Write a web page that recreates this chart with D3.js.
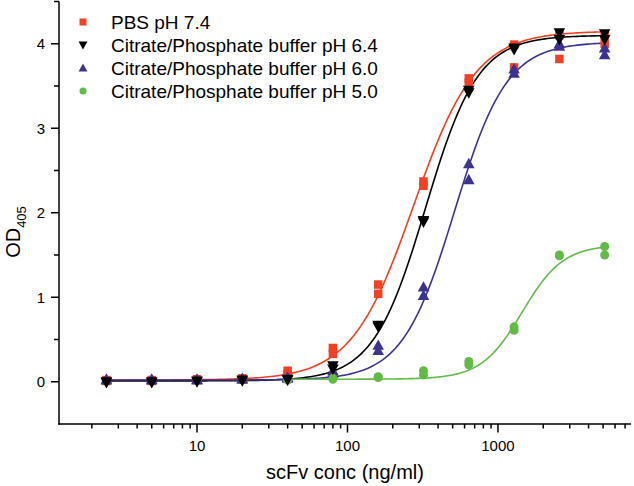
<!DOCTYPE html>
<html><head><meta charset="utf-8">
<script src="https://cdn.jsdelivr.net/npm/d3@7"></script>
<style>
html,body{margin:0;padding:0;background:#fff;}
svg{display:block;font-family:"Liberation Sans",Arial,Helvetica,sans-serif;}
</style></head>
<body><svg id="c" width="634" height="486"></svg>
<script>
// ---- data ----
const conc = [2.5, 5, 10, 20, 40, 80, 160, 320, 640, 1280, 2560, 5120];
const concLow = [40, 80, 160, 320, 640, 1280, 2560, 5120];

const pbsA = [0.02, 0.02, 0.03, 0.04, 0.13, 0.40, 1.15, 2.37, 3.59, 3.99, 4.10, 4.10];
const pbsB = [0.01, 0.01, 0.02, 0.03, 0.09, 0.33, 1.04, 2.32, 3.54, 3.72, 3.82, 4.00];
const ph64A = [0.00, 0.00, 0.01, 0.02, 0.03, 0.19, 0.67, 1.91, 3.45, 3.95, 4.13, 4.12];
const ph64B = [-0.01, -0.01, 0.00, 0.01, 0.02, 0.15, 0.65, 1.89, 3.42, 3.93, 4.05, 4.05];
const ph60A = [0.03, 0.03, 0.03, 0.04, 0.05, 0.13, 0.43, 1.12, 2.58, 3.70, 4.00, 3.95];
const ph60B = [0.02, 0.02, 0.02, 0.03, 0.04, 0.10, 0.37, 1.02, 2.39, 3.65, 3.97, 3.87];
const ph50A = [0.03, 0.04, 0.06, 0.13, 0.24, 0.65, 1.50, 1.60];
const ph50B = [0.02, 0.03, 0.05, 0.08, 0.20, 0.61, 1.49, 1.50];

// 4-parameter logistic fit parameters [bottom, top, EC50, hill]
const fitPBS = [0.02, 4.15, 275, 2.1];
const fit64 = [0.01, 4.10, 330, 2.5];
const fit60 = [0.02, 4.02, 515, 2.5];
const fit50 = [0.03, 1.62, 1450, 3.2];

const seriesNames = ["PBS pH 7.4", "Citrate/Phosphate buffer pH 6.4", "Citrate/Phosphate buffer pH 6.0", "Citrate/Phosphate buffer pH 5.0"];
const xTickLabels = [10, 100, 1000];
const yTickLabels = [0, 1, 2, 3, 4];

// ---- setup ----
const colors = ["#ef4123", "#000000", "#3c3391", "#62bb46"];
const svg = d3.select("#c");
const x = d3.scaleLog().domain([1.21, 7660]).range([59, 631]);
const y = d3.scaleLinear().domain([-0.5, 4.5]).range([424, 1.5]);

const series = [
  {name: seriesNames[0], xs: conc, reps: [pbsA, pbsB], fit: fitPBS, color: colors[0], sym: "square"},
  {name: seriesNames[1], xs: conc, reps: [ph64A, ph64B], fit: fit64, color: colors[1], sym: "down"},
  {name: seriesNames[2], xs: conc, reps: [ph60A, ph60B], fit: fit60, color: colors[2], sym: "up"},
  {name: seriesNames[3], xs: concLow, reps: [ph50A, ph50B], fit: fit50, color: colors[3], sym: "circle"}
];

function logistic(p, c) { return p[0] + (p[1] - p[0]) / (1 + Math.pow(p[2] / c, p[3])); }

function marker(g, sym, cx, cy, s, color) {
  if (sym === "square") {
    g.append("rect").attr("x", cx - s/2).attr("y", cy - s/2).attr("width", s).attr("height", s).attr("fill", color);
  } else if (sym === "circle") {
    g.append("circle").attr("cx", cx).attr("cy", cy).attr("r", s/2).attr("fill", color);
  } else {
    const h = s * 0.9, w = s * 1.05;
    const pts = sym === "up"
      ? [[cx, cy - h*0.6], [cx + w/2, cy + h*0.45], [cx - w/2, cy + h*0.45]]
      : [[cx, cy + h*0.6], [cx + w/2, cy - h*0.45], [cx - w/2, cy - h*0.45]];
    g.append("path").attr("d", "M" + pts.map(p => p.join(",")).join("L") + "Z").attr("fill", color);
  }
}

// ---- curves ----
const line = d3.line().x(d => x(d[0])).y(d => y(d[1])).curve(d3.curveLinear);
series.forEach(s => {
  const lo = Math.log10(s.xs[0]), hi = Math.log10(s.xs[s.xs.length - 1]);
  const pts = d3.range(0, 201).map(i => {
    const c = Math.pow(10, lo + (hi - lo) * i / 200);
    return [c, logistic(s.fit, c)];
  });
  svg.append("path").attr("d", line(pts)).attr("fill", "none")
    .attr("stroke", s.color).attr("stroke-width", 1.6);
});

// ---- points ----
const drawOrder = [0, 2, 3, 1];
drawOrder.forEach(i => {
  const s = series[i];
  const g = svg.append("g");
  const size = s.sym === "square" ? 8.5 : (s.sym === "circle" ? 9 : 11);
  s.reps.forEach(rep => rep.forEach((v, j) => marker(g, s.sym, x(s.xs[j]), y(v), size, s.color)));
});

// ---- axes ----
const axisG = svg.append("g").attr("stroke", "#000").attr("stroke-width", 1.5);
axisG.append("line").attr("x1", 59).attr("x2", 59).attr("y1", y(4.5)).attr("y2", 424.75);
axisG.append("line").attr("x1", 58.25).attr("x2", 631).attr("y1", 424).attr("y2", 424);

// y ticks
yTickLabels.forEach(v => axisG.append("line").attr("x1", 51).attr("x2", 59).attr("y1", y(v)).attr("y2", y(v)));
[0.5, 1.5, 2.5, 3.5, 4.5].forEach(v => axisG.append("line").attr("x1", 54).attr("x2", 59).attr("y1", y(v)).attr("y2", y(v)));
yTickLabels.forEach(v => svg.append("text").attr("x", 45).attr("y", y(v)).attr("dy", "0.36em")
  .attr("text-anchor", "end").attr("font-size", 15).text(v));

// x ticks
const minor = [];
[1, 10, 100, 1000].forEach(d => { for (let k = 2; k <= 9; k++) { const v = d * k; if (v >= 1.21 && v <= 7660) minor.push(v); } });
minor.forEach(v => axisG.append("line").attr("x1", x(v)).attr("x2", x(v)).attr("y1", 424).attr("y2", 428.5));
xTickLabels.forEach(v => axisG.append("line").attr("x1", x(v)).attr("x2", x(v)).attr("y1", 424).attr("y2", 432.5));
xTickLabels.forEach(v => svg.append("text").attr("x", x(v)).attr("y", 450.5)
  .attr("text-anchor", "middle").attr("font-size", 15).text(v));

// axis titles
svg.append("text").attr("x", 345).attr("y", 479).attr("text-anchor", "middle")
  .attr("font-size", 20).text("scFv conc (ng/ml)");
const yt = svg.append("text").attr("transform", "translate(20,232) rotate(-90)")
  .attr("text-anchor", "middle").attr("font-size", 20);
yt.append("tspan").text("OD");
yt.append("tspan").attr("font-size", 13).attr("dy", 6).text("405");

// ---- legend ----
series.forEach((s, i) => {
  const cy = 22 + i * 23;
  const g = svg.append("g");
  const size = s.sym === "square" ? 7 : (s.sym === "circle" ? 7 : 8.5);
  marker(g, s.sym, 83, cy, size, s.color);
  svg.append("text").attr("x", 111).attr("y", cy).attr("dy", "0.36em").attr("font-size", 19).text(s.name);
});
</script></body></html>
